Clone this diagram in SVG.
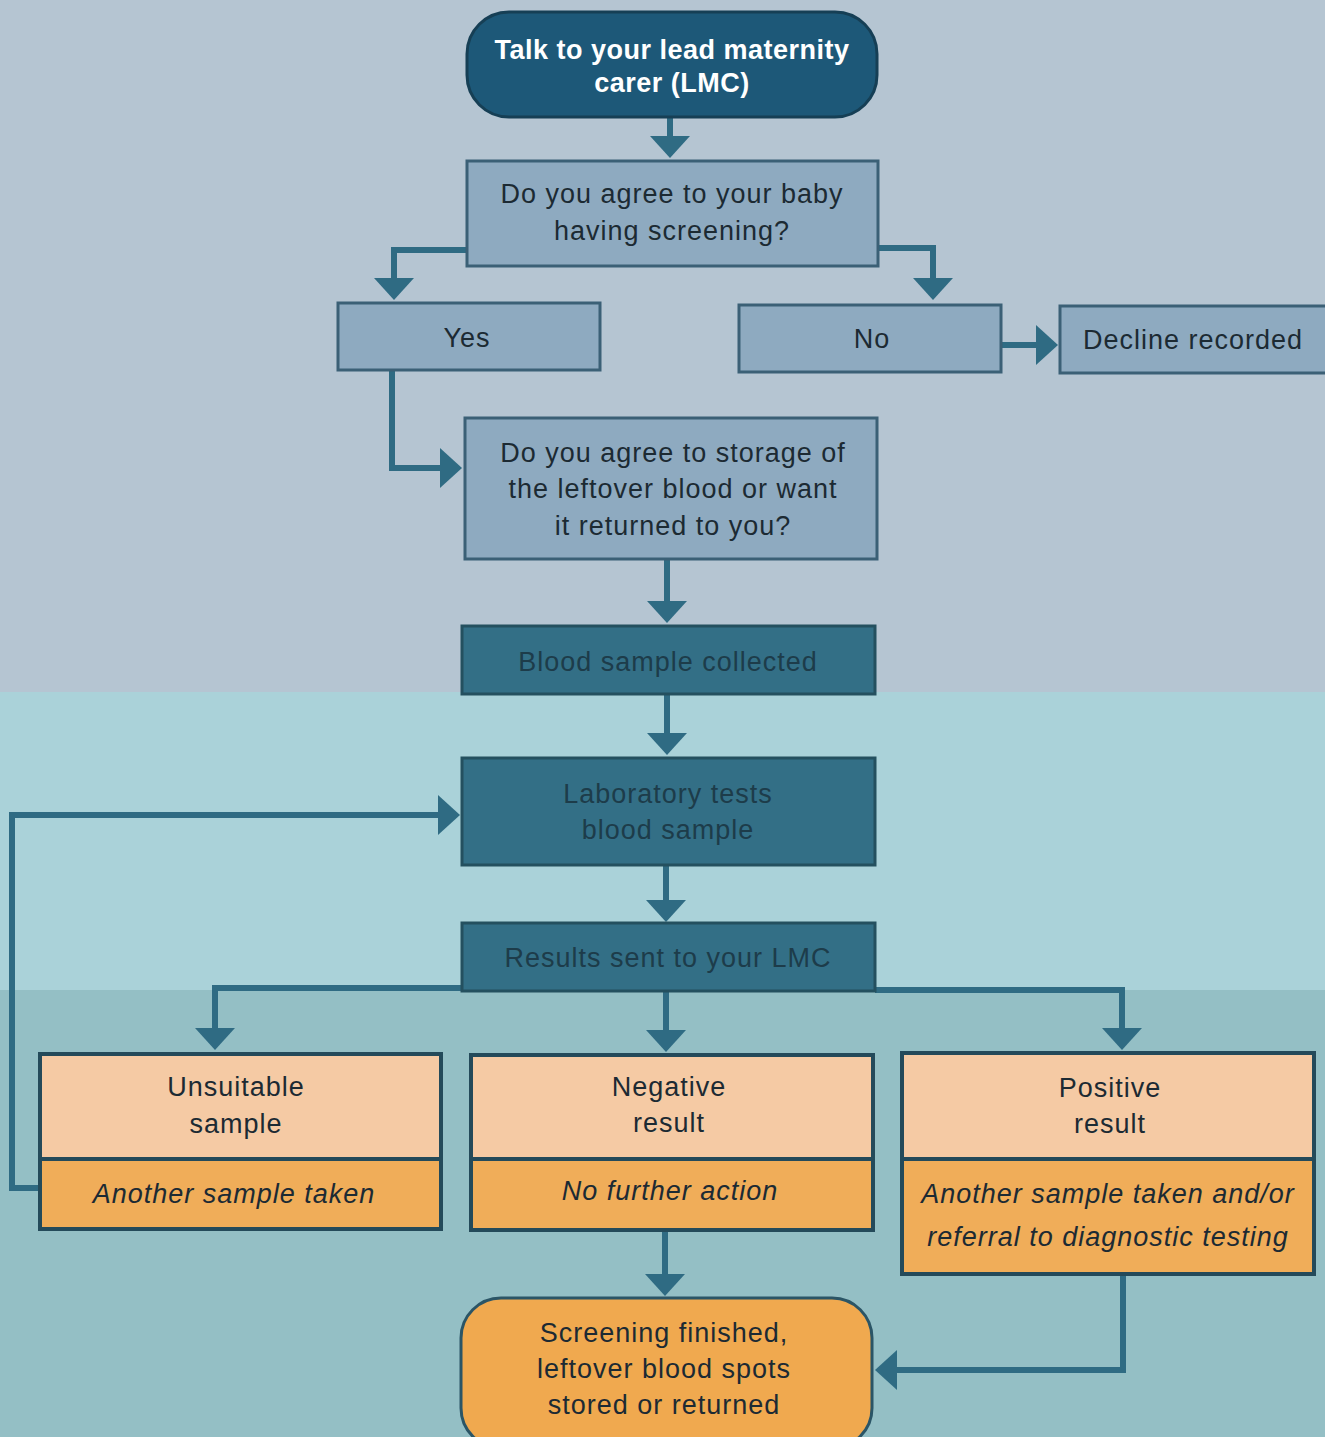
<svg xmlns="http://www.w3.org/2000/svg" width="1325" height="1437" viewBox="0 0 1325 1437">
<style>
.t{font-family:"Liberation Sans","DejaVu Sans",sans-serif;font-size:27px;letter-spacing:1px;text-anchor:middle;fill:#1c2a33}
.w{fill:#ffffff;font-weight:bold;letter-spacing:0.5px}
.i{font-style:italic}
.dk{fill:#1d3c4a}
.lb{fill:#8eaac0;stroke:#3b6076;stroke-width:3}
.db{fill:#336f86;stroke:#24505f;stroke-width:3}
.pe{fill:#f5caa4}
.or{fill:#f0ad59}
.ob{fill:none;stroke:#244a5a;stroke-width:4}
.c{fill:none;stroke:#2f6b83;stroke-width:6}
</style>
<defs>
<marker id="ah" viewBox="0 0 22 40" refX="8" refY="20" markerWidth="22" markerHeight="40" markerUnits="userSpaceOnUse" orient="auto">
<path d="M0,0 L22,20 L0,40 Z" fill="#2f6b83"/>
</marker>
</defs>
<rect x="0" y="0" width="1325" height="692" fill="#b5c5d2"/>
<rect x="0" y="692" width="1325" height="298" fill="#aad2d9"/>
<rect x="0" y="990" width="1325" height="447" fill="#94bfc5"/>

<g id="connectors">
<path class="c" d="M670,117 V144" marker-end="url(#ah)"/>
<path class="c" d="M467,250 H394 V286" marker-end="url(#ah)"/>
<path class="c" d="M878,248 H933 V286" marker-end="url(#ah)"/>
<path class="c" d="M1001,345 H1044" marker-end="url(#ah)"/>
<path class="c" d="M392,370 V468 H448" marker-end="url(#ah)"/>
<path class="c" d="M667,559 V609" marker-end="url(#ah)"/>
<path class="c" d="M667,694 V741" marker-end="url(#ah)"/>
<path class="c" d="M666,865 V908" marker-end="url(#ah)"/>
<path class="c" d="M462,988 H215 V1036" marker-end="url(#ah)"/>
<path class="c" d="M666,991 V1038" marker-end="url(#ah)"/>
<path class="c" d="M875,990 H1122 V1036" marker-end="url(#ah)"/>
<path class="c" d="M40,1188 H12 V815 H446" marker-end="url(#ah)"/>
<path class="c" d="M665,1230 V1282" marker-end="url(#ah)"/>
<path class="c" d="M1123,1274 V1370 H889" marker-end="url(#ah)"/>
</g>

<g id="start">
<rect x="467" y="12" width="410" height="105" rx="42" fill="#1d5878" stroke="#163f55" stroke-width="3"/>
<text class="t w" x="672" y="59">Talk to your lead maternity</text>
<text class="t w" x="672" y="92">carer (LMC)</text>
</g>

<g id="q1">
<rect class="lb" x="467" y="161" width="411" height="105"/>
<text class="t" x="672" y="203">Do you agree to your baby</text>
<text class="t" x="672" y="240">having screening?</text>
</g>

<g id="yes">
<rect class="lb" x="338" y="303" width="262" height="67"/>
<text class="t" x="467" y="347">Yes</text>
</g>

<g id="no">
<rect class="lb" x="739" y="305" width="262" height="67"/>
<text class="t" x="872" y="348">No</text>
</g>

<g id="decline">
<rect class="lb" x="1060" y="306" width="268" height="67"/>
<text class="t" x="1193" y="349">Decline recorded</text>
</g>

<g id="q2">
<rect class="lb" x="465" y="418" width="412" height="141"/>
<text class="t" x="673" y="462">Do you agree to storage of</text>
<text class="t" x="673" y="498">the leftover blood or want</text>
<text class="t" x="673" y="535">it returned to you?</text>
</g>

<g id="collected">
<rect class="db" x="462" y="626" width="413" height="68"/>
<text class="t dk" x="668" y="671">Blood sample collected</text>
</g>

<g id="lab">
<rect class="db" x="462" y="758" width="413" height="107"/>
<text class="t dk" x="668" y="803">Laboratory tests</text>
<text class="t dk" x="668" y="839">blood sample</text>
</g>

<g id="results">
<rect class="db" x="462" y="923" width="413" height="68"/>
<text class="t dk" x="668" y="967">Results sent to your LMC</text>
</g>

<g id="unsuitable">
<rect class="pe" x="40" y="1054" width="401" height="105"/>
<rect class="or" x="40" y="1159" width="401" height="70"/>
<rect class="ob" x="40" y="1054" width="401" height="175"/>
<line x1="40" y1="1159" x2="441" y2="1159" stroke="#244a5a" stroke-width="4"/>
<text class="t" x="236" y="1096">Unsuitable</text>
<text class="t" x="236" y="1133">sample</text>
<text class="t i" x="234" y="1203">Another sample taken</text>
</g>

<g id="negative">
<rect class="pe" x="471" y="1055" width="402" height="104"/>
<rect class="or" x="471" y="1159" width="402" height="71"/>
<rect class="ob" x="471" y="1055" width="402" height="175"/>
<line x1="471" y1="1159" x2="873" y2="1159" stroke="#244a5a" stroke-width="4"/>
<text class="t" x="669" y="1096">Negative</text>
<text class="t" x="669" y="1132">result</text>
<text class="t i" x="670" y="1200">No further action</text>
</g>

<g id="positive">
<rect class="pe" x="902" y="1053" width="412" height="106"/>
<rect class="or" x="902" y="1159" width="412" height="115"/>
<rect class="ob" x="902" y="1053" width="412" height="221"/>
<line x1="902" y1="1159" x2="1314" y2="1159" stroke="#244a5a" stroke-width="4"/>
<text class="t" x="1110" y="1097">Positive</text>
<text class="t" x="1110" y="1133">result</text>
<text class="t i" x="1108" y="1203">Another sample taken and/or</text>
<text class="t i" x="1108" y="1246">referral to diagnostic testing</text>
</g>

<g id="end">
<rect x="461" y="1298" width="411" height="150" rx="40" fill="#f0a94f" stroke="#2b5566" stroke-width="3"/>
<text class="t" x="664" y="1342">Screening finished,</text>
<text class="t" x="664" y="1378">leftover blood spots</text>
<text class="t" x="664" y="1414">stored or returned</text>
</g>
</svg>
